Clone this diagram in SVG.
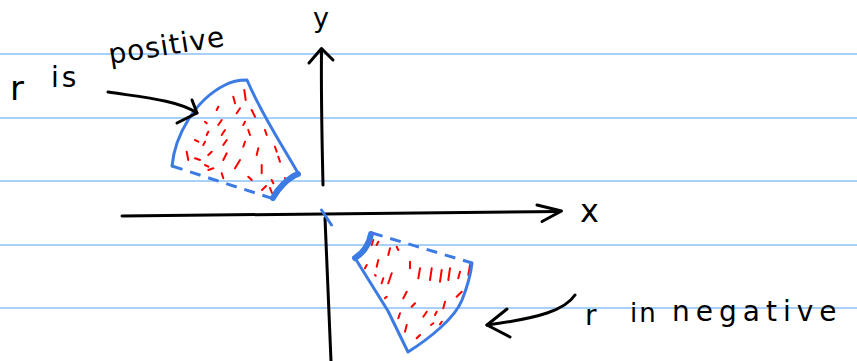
<svg xmlns="http://www.w3.org/2000/svg" width="857" height="361" viewBox="0 0 857 361">
<style>
.rule{stroke:#a9d0f7;stroke-width:2;fill:none}
.ink{stroke:#000;stroke-width:3;fill:none;stroke-linecap:round;stroke-linejoin:round}
.edge{stroke:#3c7be3;stroke-width:3;fill:none;stroke-linecap:round;stroke-linejoin:round}
.dash{stroke:#3c7be3;stroke-width:3;fill:none;stroke-dasharray:11 8}
.thick{stroke:#3c7be3;stroke-width:6;fill:none;stroke-linecap:round}
.hatch{stroke:#ff0000;stroke-width:2;fill:none;stroke-linecap:round}
.lbl{font-family:"DejaVu Sans","Liberation Sans",sans-serif;fill:#000}
</style>
<rect width="857" height="361" fill="#fff"/>
<g id="paper">
<line class="rule" x1="0" y1="54" x2="857" y2="54"/>
<line class="rule" x1="0" y1="118" x2="857" y2="118"/>
<line class="rule" x1="0" y1="181" x2="857" y2="181"/>
<line class="rule" x1="0" y1="245" x2="857" y2="245"/>
<line class="rule" x1="0" y1="308" x2="857" y2="308"/>
</g>
<g id="axes">
<path class="ink" d="M323,185 C322,140 321,100 321.5,50"/>
<path class="ink" d="M309,63 L321.5,48.5 L333,60"/>
<path class="ink" d="M325,218 C327,270 329,320 331,361"/>
<path class="ink" d="M122,216 C250,214 400,213 560,211.5"/>
<path class="ink" d="M537,205 L561.5,211 L542,221.5"/>
<path class="edge" d="M321.5,210 L331.5,225"/>
<text class="lbl" x="580" y="222" font-size="32">x</text>
<text class="lbl" x="313" y="27" font-size="27">y</text>
</g>
<g id="sector-positive">
<path class="hatch" d="M233.3,96.7L235,103.3M244.3,90L245.7,100M240,108.3L236.7,113.3M218.3,106.7L216.7,110M251.7,110L255,116.7M205,121.7L206.7,123.3M221.7,120L218.3,125M245,121.7L243.3,125M225,130L221.7,135M208.3,131.7L206.7,135M248.3,130L250,135M265,130L266.7,135M195,140L198.3,141.7M205,141.7L203.3,145M226.7,140L223.3,145M245,141.7L243.3,146.7M258.3,148.3L256.7,155M275,146.7L276.7,151.7M186.7,151.7L188.3,160M195,158.3L200,160M211.7,151.7L208.3,155M226.7,153.3L223.3,160M205,165L208.3,166.7M240,160L235,168.3M261.7,165L261.7,173.3M278.3,156.7L280,161.7M221.7,173.3L223.3,178.3M248.3,176.7L251.7,180M271.7,180L273.3,183.3M208.3,170L213.3,168.3M270,188L272,193M285,178L287,183M262,190L266,186"/>
<path class="edge" d="M172,166 C175,135 195,100 225,85 C232,81 240,80 247,80 C262,115 282,145 298,173"/>
<path class="dash" d="M172,166 L277,200"/>
<path class="thick" d="M298,174 C288,178 278,188 273,198"/>
</g>
<g id="sector-negative">
<path class="hatch" d="M373.3,240L371.7,245M378.3,241.7L376.7,245M390,248.3L388.3,255M396.7,246.7L398.3,250M366.7,265L365,268.3M378.3,260L376.7,266.7M410,261.7L410,268.3M420,268.3L418.3,278.3M431.7,268.3L430,280M441.7,270L440,281.7M450,268.3L448.3,280M460,271.7L458.3,278.3M470,265L468.3,275M391.7,273.3L388.3,283.3M383.3,278.3L381.7,283.3M375,275L375.7,275.7M406.7,291.7L403.3,298.3M386.7,296.7L385,298.3M461.7,291.7L456.7,296.7M415,303.3L411.7,306.7M426.7,311.7L423.3,316.7M445,301.7L443.3,308.3M436.7,311.7L435,315M400,313.3L398.3,318.3M433.3,323.3L431,325M406.7,325L405,331.7M420,335L416.7,338.3M441.7,321.7L440,324.3"/>
<path class="edge" d="M355,258 L388,311 L408,352 C430,338 455,318 462,300 C468,285 471,272 472,263"/>
<path class="dash" d="M372,233 L472,263"/>
<path class="thick" d="M371,234 C369,245 363,253 355,258"/>
</g>
<g id="connectors">
<path class="ink" d="M108,92 C140,97 178,100 197,113"/>
<path class="ink" d="M192,100 L197,113 L177,123"/>
<path class="ink" d="M575,295 C565,310 540,318 487,325"/>
<path class="ink" d="M507,309 L487,325 L510,337"/>
</g>
<g id="label-positive">
<text class="lbl" x="10" y="100" font-size="34">r</text>
<text class="lbl" x="51" y="87" font-size="28" letter-spacing="3">is</text>
<text class="lbl" x="110" y="64" font-size="28" letter-spacing="1" transform="rotate(-9 110 64)">positive</text>
</g>
<g id="label-negative">
<text class="lbl" x="585" y="325" font-size="28">r</text>
<text class="lbl" x="630" y="322" font-size="26" letter-spacing="2">in</text>
<text class="lbl" x="672" y="321" font-size="28" letter-spacing="6">negative</text>
</g>
</svg>
